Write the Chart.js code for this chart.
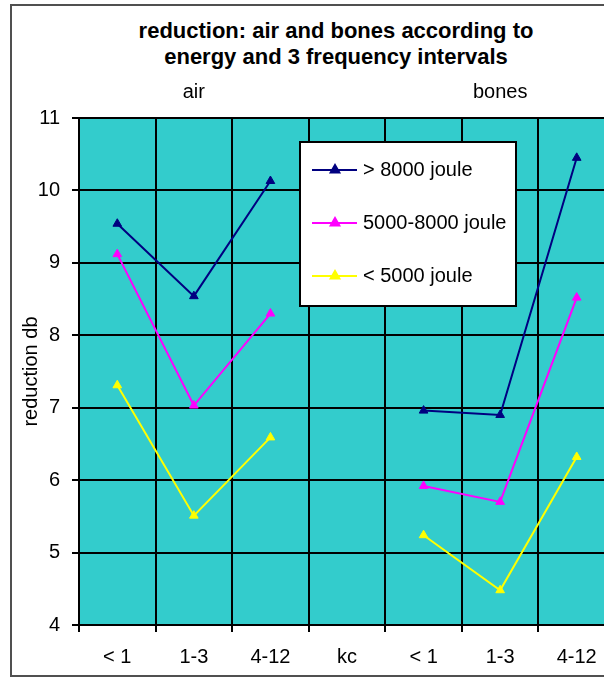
<!DOCTYPE html>
<html>
<head>
<meta charset="utf-8">
<script src="https://cdn.jsdelivr.net/npm/chart.js@4.4.1/dist/chart.umd.min.js"></script>
<style>
  html, body { margin: 0; padding: 0; background: #fff; }
  body { width: 604px; height: 677px; overflow: hidden; position: relative; font-family: 'Liberation Sans', Arial, sans-serif; }
  #chart { position: absolute; left: 0; top: 0; }
  #title { position: absolute; left: 0; top: 18px; width: 672px; text-align: center;
           font-weight: bold; font-size: 22px; line-height: 26px; color: #000; }
  #frame { position: absolute; left: 10px; top: 4px; width: 700px; height: 669px;
           border: 2px solid #505050; pointer-events: none; }
</style>
</head>
<body>
<div id="title">reduction: air and bones according to<br>energy and 3 frequency intervals</div>
<canvas id="chart" width="640" height="677"></canvas>
<div id="frame"></div>
<script>
// categories: 3 frequency intervals (kc) for air, a spacer, then the same for bones
const CATEGORIES = ['< 1', '1-3', '4-12', 'kc', '< 1', '1-3', '4-12'];
const GROUPS = ['air', 'bones'];
const GROUP_AT = [1, 5];          // category index each group label sits over

const SERIES_NAMES = ['> 8000 joule', '5000-8000 joule', '< 5000 joule'];
const HIGH = [9.54, 8.54, 10.13, null, 6.96, 6.90, 10.45];
const MID  = [9.12, 7.03, 8.30, null, 5.92, 5.70, 8.52];
const LOW  = [7.31, 5.51, 6.59, null, 5.24, 4.48, 6.32];

const Y_MIN = 4, Y_MAX = 11, Y_STEP = 1;

const COLORS = {
  high: '#000080',
  mid:  '#FF00FF',
  low:  '#FFFF00',
  plot: '#33CCCC',
  ink:  '#000000',
};

Chart.defaults.font.family = "'Liberation Sans', Arial, sans-serif";
Chart.defaults.color = COLORS.ink;

const series = (label, data, color) => ({
  label, data,
  borderColor: color, backgroundColor: color,
  borderWidth: 2, tension: 0, spanGaps: false,
  pointStyle: 'triangle', pointRadius: 5, pointBorderWidth: 1,
  pointBackgroundColor: color, pointBorderColor: color,
});

// teal plot area
const plotBg = {
  id: 'plotBg',
  beforeDraw(chart) {
    const { ctx, chartArea: a } = chart;
    ctx.save();
    ctx.fillStyle = COLORS.plot;
    ctx.fillRect(a.left, a.top, a.right - a.left, a.bottom - a.top);
    ctx.restore();
  },
};

// "air" / "bones" over their middle category
const groupLabels = {
  id: 'groupLabels',
  afterDraw(chart) {
    const { ctx } = chart;
    const x = chart.scales.x;
    ctx.save();
    ctx.font = "20px 'Liberation Sans', Arial, sans-serif";
    ctx.fillStyle = COLORS.ink;
    ctx.textAlign = 'center';
    ctx.textBaseline = 'middle';
    GROUPS.forEach((g, i) => ctx.fillText(g, x.getPixelForValue(GROUP_AT[i]), 92));
    ctx.restore();
  },
};

// boxed legend inside the plot, Excel style
const boxLegend = {
  id: 'boxLegend',
  afterDraw(chart) {
    const { ctx } = chart;
    ctx.save();
    ctx.fillStyle = '#fff';
    ctx.fillRect(300, 142, 216, 164);
    ctx.strokeStyle = COLORS.ink;
    ctx.lineWidth = 2;
    ctx.strokeRect(300, 142, 216, 164);
    ctx.font = "20px 'Liberation Sans', Arial, sans-serif";
    ctx.textBaseline = 'middle';
    chart.data.datasets.forEach((ds, i) => {
      const y = 170 + i * 53;
      ctx.strokeStyle = ds.borderColor;
      ctx.lineWidth = 2;
      ctx.beginPath();
      ctx.moveTo(312, y);
      ctx.lineTo(357, y);
      ctx.stroke();
      ctx.fillStyle = ds.borderColor;
      Chart.helpers.drawPoint(ctx, { pointStyle: 'triangle', radius: 5, borderWidth: 1 }, 335, y);
      ctx.fillStyle = COLORS.ink;
      ctx.fillText(ds.label, 363, y);
    });
    ctx.restore();
  },
};

new Chart(document.getElementById('chart'), {
  type: 'line',
  data: {
    labels: CATEGORIES,
    datasets: [
      series(SERIES_NAMES[0], HIGH, COLORS.high),
      series(SERIES_NAMES[1], MID,  COLORS.mid),
      series(SERIES_NAMES[2], LOW,  COLORS.low),
    ],
  },
  options: {
    responsive: false,
    animation: false,
    layout: { padding: { top: 118, right: 25, left: 0, bottom: 0 } },
    plugins: { legend: { display: false }, tooltip: { enabled: false } },
    scales: {
      x: {
        offset: true,
        grid: { offset: true, color: COLORS.ink, lineWidth: 2, tickLength: 7, tickColor: COLORS.ink },
        border: { color: COLORS.ink, width: 2 },
        ticks: { color: COLORS.ink, font: { size: 20 }, padding: 13, maxRotation: 0, autoSkip: false },
        afterFit(s) { s.height = 52; },
      },
      y: {
        min: Y_MIN, max: Y_MAX,
        grid: { color: COLORS.ink, lineWidth: 2, tickLength: 7, tickColor: COLORS.ink },
        border: { color: COLORS.ink, width: 2 },
        ticks: { stepSize: Y_STEP, color: COLORS.ink, font: { size: 20 }, padding: 12 },
        title: { display: true, text: 'reduction db', color: COLORS.ink, font: { size: 20 }, padding: { top: 19, bottom: 0 } },
        afterFit(s) { s.width = 79; },
      },
    },
  },
  plugins: [plotBg, groupLabels, boxLegend],
});
</script>
</body>
</html>
